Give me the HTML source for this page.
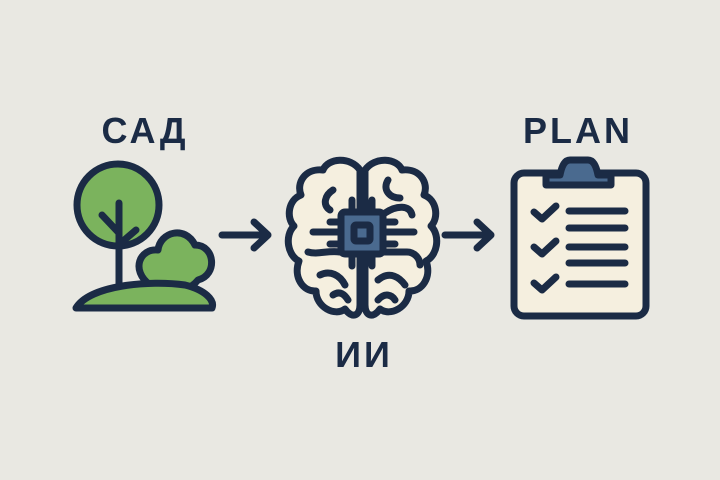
<html><body style="margin:0;background:#e9e8e2">
<svg width="720" height="480" viewBox="0 0 720 480" xmlns="http://www.w3.org/2000/svg" style="display:block">
<rect width="720" height="480" fill="#e9e8e2"/>
<g font-family="Liberation Sans, DejaVu Sans, sans-serif" font-weight="bold" font-size="36" fill="#1b2b45" text-anchor="middle" letter-spacing="3">
<text x="145" y="143">САД</text>
<text x="578" y="143">PLAN</text>
<text x="364" y="367">ИИ</text>
</g>
<g stroke="#1b2b45" stroke-width="7" stroke-linecap="round" stroke-linejoin="round" fill="none">
<!-- tree -->
<circle cx="118" cy="205" r="41" fill="#7bb35d"/>
<path d="M119 203 V290 M102 215 L119 233 M136 230 L122 242"/>
<path d="M150 285 C130 270 140 248 158 250 C160 232 185 225 195 245 C215 245 218 275 198 280 C190 290 180 290 175 285 Z" fill="#7bb35d"/>
<path d="M76 308 C90 285 150 280 185 285 C205 290 215 300 212 308 Z" fill="#7bb35d"/>
<!-- arrows -->
<path d="M222 235 H268 M254 222 L268 235 L254 248"/>
<path d="M445 235 H491 M477 222 L491 235 L477 248"/>
<!-- brain -->
<path d="M360 170 C350 156 328 158 323 170 C305 168 296 183 301 195 C288 200 286 218 294 226 C284 236 288 256 299 261 C293 277 303 292 316 291 C316 307 335 317 345 309 C352 319 360 316 360 305 Z" fill="#f5efdf"/>
<path d="M365 170 C375 156 397 158 402 170 C420 168 429 183 424 195 C437 200 439 218 431 226 C441 236 437 256 426 261 C432 277 422 292 409 291 C409 307 390 317 380 309 C373 319 365 316 365 305 Z" fill="#f5efdf"/>
<path d="M362 172 V305"/>
<path d="M333 190 C325 195 322 205 330 210 M313 232 H340 M308 252 C318 255 328 250 340 252 M320 275 C330 270 340 275 345 285 M333 295 C340 290 345 295 348 300"/>
<path d="M388 180 C382 190 390 198 400 198 M385 213 C397 205 410 205 412 215 M384 232 H414 M384 252 H407 C414 252 420 258 420 265 M378 280 C390 270 400 278 405 285 M378 300 C385 292 392 295 395 300"/>
<path d="M352 200 V212 M372 200 V212 M352 254 V266 M372 254 V266 M330 222 H340 M330 244 H340 M385 222 H395 M385 244 H395"/>
<rect x="341" y="212" width="42" height="42" rx="4" fill="#4a6a8f"/>
<rect x="354" y="225" width="16" height="16" rx="2" fill="#4a6a8f"/>
<!-- clipboard -->
<rect x="514" y="173" width="132" height="143" rx="10" fill="#f5efdf"/>
<path d="M546 185 V175 H560 C562 165 565 160 570 160 H588 C593 160 596 165 598 175 H611 V185 Z" fill="#4a6a8f"/>
<path d="M569 211 H625 M569 228 H625 M569 247 H625 M569 263 H625 M569 284 H625"/>
<path d="M534 212 L542 219 L556 206 M534 247 L542 254 L556 241 M534 283 L542 290 L556 277"/>
</g>
</svg>
</body></html>
